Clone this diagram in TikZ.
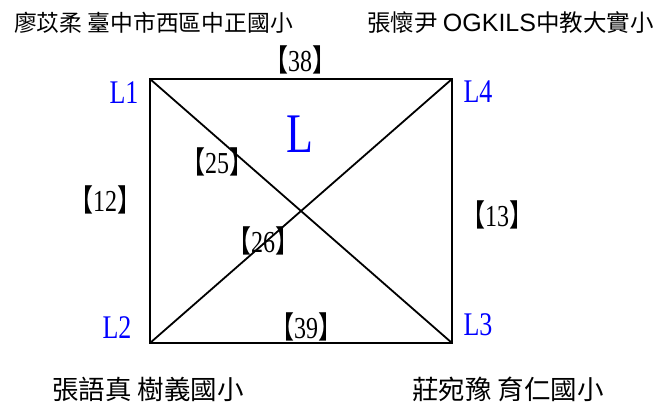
\documentclass[tikz,border=0pt]{standalone}
\usepackage{fontspec}
\usepackage{graphicx}
\setmainfont{Liberation Serif}
\newfontfamily\cjk{Noto Sans CJK TC}
\newfontfamily\lsans{Liberation Sans}
\newcommand\wbr[1]{\scalebox{1}[1.27]{{\cjk 【}#1{\cjk 】}}}
\newcommand\vstr[1]{\scalebox{1}[1.27]{#1}}
\tikzset{
  edge/.style={line width=1.8pt, line join=miter},
  vlabel/.style={text=blue, inner sep=0pt, font=\fontsize{26}{26}\selectfont},
  wlabel/.style={inner sep=0pt, font=\fontsize{24}{24}\selectfont},
  person/.style={inner sep=0pt, anchor=west, font=\cjk\fontsize{22.8}{26}\selectfont},
  persontr/.style={person, font=\cjk\fontsize{23.5}{26}\selectfont},
  personb/.style={person, font=\cjk\fontsize{26.5}{30}\selectfont}
}
\begin{document}
\begin{tikzpicture}[x=1pt,y=-1pt]
\useasboundingbox (0,0) rectangle (672,407);
\coordinate (c1) at (150,79);
\coordinate (c4) at (452,79);
\coordinate (c3) at (452,343);
\coordinate (c2) at (150,343);
\draw[edge] (c1) -- (c4) -- (c3) -- (c2) -- cycle;
\draw[edge] (c1) -- (c3);
\draw[edge] (c2) -- (c4);
\node[person] (p1) at (14,22.5) {廖苡柔 臺中市西區中正國小};
\node[persontr] (p2) at (367,22.5) {張懷尹 {\lsans\fontsize{25}{26}\selectfont OGKILS}中教大實小};
\node[personb] (p3) at (52,389) {張語真 樹義國小};
\node[personb] (p4) at (412,389) {莊宛豫 育仁國小};
\node[vlabel] (l1) at (124,93) {\vstr{L1}};
\node[vlabel] (l4) at (478,92) {\vstr{L4}};
\node[vlabel] (l2) at (117,328) {\vstr{L2}};
\node[vlabel] (l3) at (478,325) {\vstr{L3}};
\node[vlabel, font=\fontsize{44}{44}\selectfont] (lc) at (300,134) {\vstr{L}};
\node[wlabel] (w38) at (300,60) {\wbr{38}};
\node[wlabel] (w25) at (217,162) {\wbr{25}};
\node[wlabel] (w12) at (105,200) {\wbr{12}};
\node[wlabel] (w26) at (263,241) {\wbr{26}};
\node[wlabel] (w39) at (306,327) {\wbr{39}};
\node[wlabel] (w13) at (497,215) {\wbr{13}};
\end{tikzpicture}
\end{document}
